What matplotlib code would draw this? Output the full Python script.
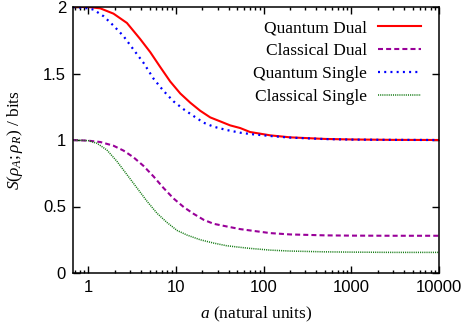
import numpy as np
import matplotlib
matplotlib.use('Agg')
import matplotlib.pyplot as plt
from matplotlib.ticker import FixedLocator, LogLocator, FuncFormatter, NullFormatter

plt.rcParams['mathtext.fontset'] = 'custom'
plt.rcParams['mathtext.rm'] = 'Liberation Serif'
plt.rcParams['mathtext.it'] = 'Liberation Serif:italic'

# values (each curve read at its own a positions)
a_qd = [0.67, 1.0, 1.37, 1.94, 2.76, 3.9, 5.1, 6.6, 8.6, 11.2, 14.6, 18.9, 24.6, 32,
        41.5, 54, 70, 119, 200, 500, 1000, 3000, 10000]
quantum_dual = [2.0, 2.0, 1.99, 1.95, 1.88, 1.76, 1.66, 1.55, 1.44, 1.35, 1.28, 1.22,
                1.17, 1.14, 1.11, 1.09, 1.06, 1.035, 1.02, 1.008, 1.004, 1.001, 1.0]

a_qs = [0.67, 1.0, 1.15, 1.5, 1.94, 2.53, 3.28, 4.27, 5.57, 7.2, 9.4, 12.3, 15.9, 20.7,
        26.9, 37.9, 54, 70, 119, 200, 500, 1000, 3000, 10000]
quantum_single = [2.0, 1.99, 1.98, 1.93, 1.86, 1.78, 1.68, 1.58, 1.46, 1.37, 1.29, 1.23,
                  1.18, 1.13, 1.10, 1.075, 1.055, 1.045, 1.03, 1.018, 1.007, 1.003, 1.001, 1.0]

a_cd = [0.67, 1.0, 1.37, 1.94, 2.53, 3.28, 4.27, 5.57, 7.2, 9.4, 12.3, 15.9, 20.7, 26.9,
        37.9, 54, 70, 119, 200, 500, 1000, 3000, 10000]
classical_dual = [1.0, 0.995, 0.985, 0.957, 0.92, 0.87, 0.805, 0.725, 0.64, 0.56, 0.495,
                  0.445, 0.40, 0.37, 0.35, 0.33, 0.32, 0.30, 0.29, 0.283, 0.281, 0.28, 0.28]

a_cs = [0.67, 1.0, 1.26, 1.63, 2.12, 2.76, 3.59, 4.67, 6.07, 7.9, 10.3, 13.4, 18.9, 26.9,
        37.9, 54, 70, 119, 200, 500, 1000, 3000, 10000]
classical_single = [1.0, 0.995, 0.975, 0.925, 0.84, 0.74, 0.64, 0.54, 0.45, 0.38, 0.32,
                    0.285, 0.25, 0.225, 0.205, 0.193, 0.185, 0.172, 0.165, 0.159, 0.157,
                    0.155, 0.155]

x_ticks = [1, 10, 100, 1000, 10000]
y_ticks = [0, 0.5, 1, 1.5, 2]

fig = plt.figure(figsize=(4.64, 3.24), dpi=100)
ax = fig.add_axes([73 / 464, 51 / 324, 366 / 464, 266 / 324])

line_kw = dict(solid_joinstyle='round', dash_joinstyle='round')
ax.plot(a_qd, quantum_dual, color='#ff0000', lw=1.5, label='Quantum Dual', **line_kw)
ax.plot(a_cd, classical_dual, color='#990099', lw=1.5, dashes=(2.4, 1.5), label='Classical Dual', **line_kw)
ax.plot(a_qs, quantum_single, color='#0000ff', lw=1.6, dashes=(0.9, 1.9), label='Quantum Single', **line_kw)
ax.plot(a_cs, classical_single, color='#137a13', lw=1.1, dashes=(0.7, 0.7), label='Classical Single', **line_kw)

ax.set_xscale('log')
ax.set_xlim(0.67, 10000)
ax.set_ylim(0, 2)
ax.xaxis.set_major_locator(FixedLocator(x_ticks))
ax.xaxis.set_major_formatter(FuncFormatter(lambda v, p: '%g' % v))
ax.xaxis.set_minor_locator(LogLocator(base=10, subs=np.arange(2, 10), numticks=20))
ax.xaxis.set_minor_formatter(NullFormatter())
ax.yaxis.set_major_locator(FixedLocator(y_ticks))
ax.yaxis.set_major_formatter(FuncFormatter(lambda v, p: '%g' % v))

ax.tick_params(which='both', direction='in', top=True, right=True, width=1)
ax.tick_params(which='major', length=5, pad=5)
ax.tick_params(which='minor', length=2.5)
for lab in ax.get_xticklabels() + ax.get_yticklabels():
    lab.set_fontfamily('Liberation Sans')
    lab.set_fontsize(12)
for s in ax.spines.values():
    s.set_linewidth(1.1)

ax.set_xlabel(r'$a$ (natural units)', family='Liberation Serif', fontsize=12.5, labelpad=7)
ax.set_ylabel(r'$S(\rho_A;\rho_R)$ / bits', family='Liberation Serif', fontsize=12.5, labelpad=13)

ax.legend(loc='upper right', bbox_to_anchor=(1 - 4 / 366, 1 + 1 / 266), frameon=False,
          markerfirst=False, handlelength=2.5,
          prop={'family': 'Liberation Serif', 'size': 12.5}, labelspacing=0.4,
          borderaxespad=0.4, handletextpad=0.6)

fig.savefig('out.png', dpi=100)
